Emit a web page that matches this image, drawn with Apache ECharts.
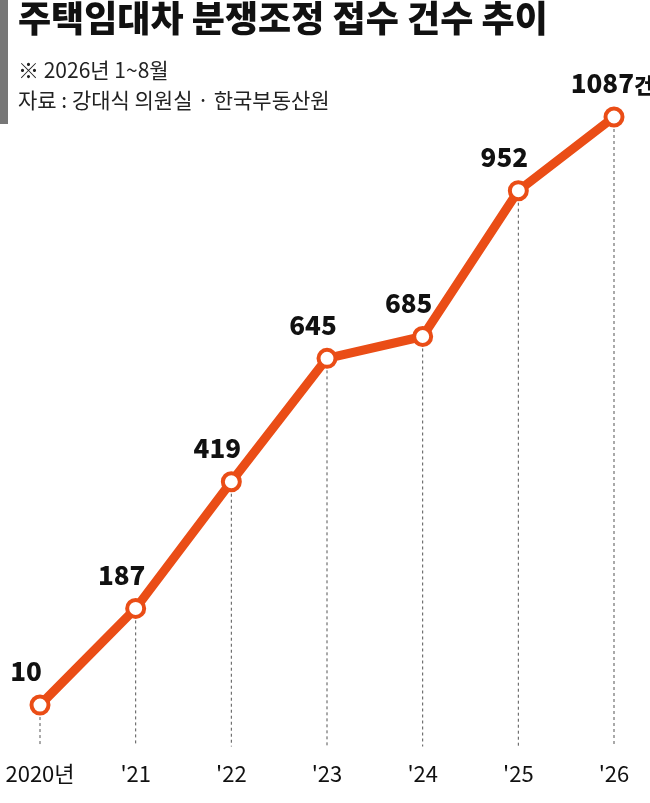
<!DOCTYPE html>
<html><head><meta charset="utf-8">
<script src="https://cdn.jsdelivr.net/npm/echarts@6/dist/echarts.min.js"></script>
<style>html,body{margin:0;padding:0;background:#fff}#c{width:650px;height:803px}</style>
</head><body><div id="c"></div>
<script>
const categories = ['2020년', "'21", "'22", "'23", "'24", "'25", "'26"];
const values = [10, 187, 419, 645, 685, 952, 1087];
const title = '주택임대차 분쟁조정 접수 건수 추이';
const note = '※ 2026년 1~8월';
const source = '자료 : 강대식 의원실 · 한국부동산원';
const orange = '#ea4d16';
const font = '"Noto Sans CJK KR", "Noto Sans", sans-serif';

const chart = echarts.init(document.getElementById('c'));
chart.setOption({
  animation: false,
  backgroundColor: '#fff',
  graphic: [
    {type:'rect', shape:{x:0,y:0,width:8,height:124}, style:{fill:'#777'}},
    {type:'text', left:18, top:0, style:{text:title, font:'900 36px '+font, fill:'#111'}},
    {type:'text', left:18, top:60, style:{text:note, font:'21px '+font, fill:'#222'}},
    {type:'text', left:18, top:90, style:{text:source, font:'21px '+font, fill:'#222'}}
  ],
  grid: {left:40, right:36, top:55.3, bottom:92.5},
  xAxis: {type:'category', data:categories, boundaryGap:false,
    axisLine:{show:false}, axisTick:{show:false}, splitLine:{show:false},
    axisLabel:{margin:52, fontSize:22, color:'#111', fontFamily:font}},
  yAxis: {type:'value', min:0, max:1200, show:false},
  series: [
    {type:'custom', z:1, data:values.map((v,i)=>[i,v]),
      renderItem:(params, api)=>{
        const p = api.coord([api.value(0), api.value(1)]);
        const b = api.coord([api.value(0), 0]);
        return {type:'line', shape:{x1:p[0], y1:p[1], x2:b[0], y2:b[1]+36},
          style:{stroke:'#555', lineWidth:1, lineDash:[3,3]}};
      }},
    {type:'line', z:3, data:values.map((v,i)=> i===values.length-1 ? {value:v, label:{offset:[-2,0]}} : v),
      symbol:'circle', symbolSize:17,
      lineStyle:{color:orange, width:9},
      itemStyle:{color:'#fff', borderColor:orange, borderWidth:4},
      label:{show:true, position:'top', distance:10, offset:[-14,0], color:'#111',
        fontFamily:font, fontWeight:900, fontSize:26,
        formatter:(p)=> p.dataIndex===values.length-1 ? '{n|'+p.value+'}{u|건}' : String(p.value),
        rich:{n:{fontSize:26, fontWeight:900, fontFamily:font, color:'#111'},
              u:{fontSize:21, fontWeight:900, fontFamily:font, color:'#111', padding:[3,0,0,0]}}}}
  ]
});
</script></body></html>
